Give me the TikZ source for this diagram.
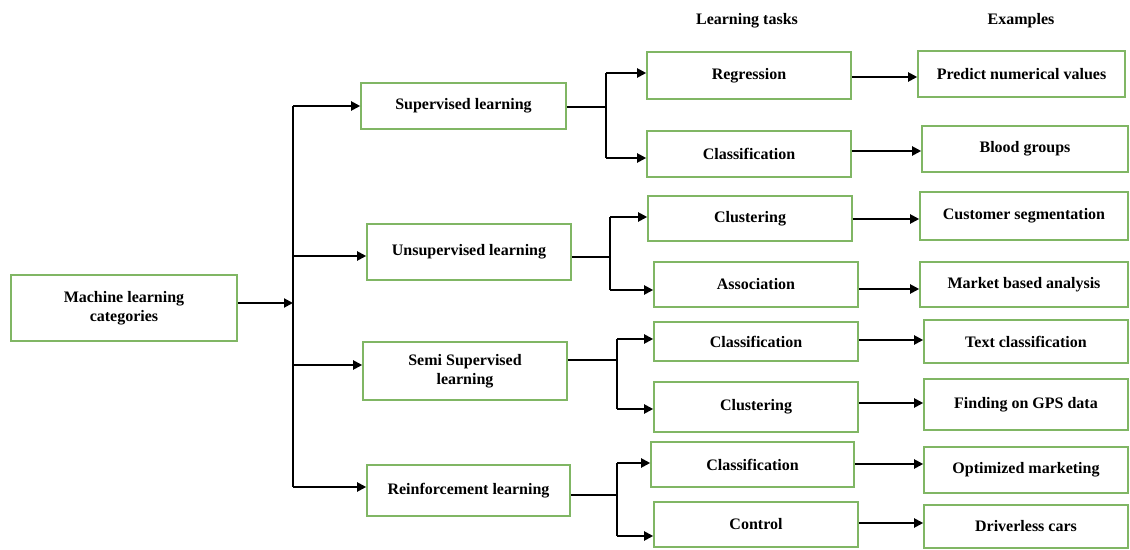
\documentclass[tikz,border=0pt]{standalone}
\usepackage{fontspec}
\setmainfont{Liberation Serif}
\usetikzlibrary{arrows.meta}
\definecolor{boxgreen}{RGB}{128,182,100}
\tikzset{
  box/.style={draw=boxgreen, line width=0.8pt, fill=white, align=center, inner sep=1pt,
    font=\fontsize{8}{9.6}\selectfont\bfseries},
  conn/.style={draw=black, line width=1pt},
  arr/.style={conn, -{Triangle[length=4.5pt,width=4.5pt]}},
  hdr/.style={font=\fontsize{8}{9.6}\selectfont\bfseries}
}
\begin{document}
\begin{tikzpicture}[x=0.5pt,y=-0.5pt]
\useasboundingbox[fill=white] (0,0) rectangle (1130,550);
% headers
\node[hdr] (h1) at (747,21) {Learning tasks};
\node[hdr] (h2) at (1021,21) {Examples};
% root and categories
\node[box, minimum width=113pt, minimum height=33pt] (ml) at (124,308) {Machine learning\\categories};
\node[box, minimum width=102.5pt, minimum height=23pt] (sup) at (463.5,106) {Supervised learning};
\node[box, minimum width=102pt, minimum height=28pt] (uns) at (469,252) {Unsupervised learning};
\node[box, minimum width=102pt, minimum height=29pt] (semi) at (465,371) {Semi Supervised\\learning};
\node[box, minimum width=101.5pt, minimum height=25.5pt] (rein) at (468.5,490.5) {Reinforcement learning};
% tasks
\node[box, minimum width=102pt, minimum height=23.5pt] (reg) at (749,75.5) {Regression};
\node[box, minimum width=102pt, minimum height=23pt] (clsa) at (749,154) {Classification};
\node[box, minimum width=102pt, minimum height=22.5pt] (clua) at (750,218.5) {Clustering};
\node[box, minimum width=102pt, minimum height=22.5pt] (asso) at (756,284.5) {Association};
\node[box, minimum width=102pt, minimum height=19.5pt] (clsb) at (756,341.5) {Classification};
\node[box, minimum width=102pt, minimum height=25pt] (club) at (756,407) {Clustering};
\node[box, minimum width=101.5pt, minimum height=22.5pt] (clsc) at (752.5,464.5) {Classification};
\node[box, minimum width=102pt, minimum height=22.5pt] (ctrl) at (756,524.5) {Control};
% examples
\node[box, minimum width=103.5pt, minimum height=23pt] (pred) at (1021.5,74) {Predict numerical values};
\node[box, minimum width=103pt, minimum height=23pt] (blood) at (1025,149) {Blood groups};
\node[box, minimum width=104pt, minimum height=24pt] (cust) at (1024,216) {Customer segmentation};
\node[box, minimum width=104pt, minimum height=22.5pt] (mkt) at (1024,284.5) {Market based analysis};
\node[box, minimum width=102pt, minimum height=21.5pt] (txt) at (1026,341.5) {Text classification};
\node[box, minimum width=102pt, minimum height=25.5pt] (gps) at (1026,404.5) {Finding on GPS data};
\node[box, minimum width=102pt, minimum height=23pt] (opt) at (1026,470) {Optimized marketing};
\node[box, minimum width=102pt, minimum height=21.5pt] (drv) at (1026,526.5) {Driverless cars};
% trunk
\coordinate (tr0) at (293,303);
\coordinate (tr1) at (293,106);
\coordinate (tr2) at (293,256);
\coordinate (tr3) at (293,365);
\coordinate (tr4) at (293,487);
\draw[arr] (ml.east |- tr0) -- (tr0);
\draw[conn] (tr1) -- (tr4);
\draw[arr] (tr1) -- (tr1 -| sup.west);
\draw[arr] (tr2) -- (tr2 -| uns.west);
\draw[arr] (tr3) -- (tr3 -| semi.west);
\draw[arr] (tr4) -- (tr4 -| rein.west);
% branch: supervised
\coordinate (sa) at (606,107);
\coordinate (sb) at (606,73);
\coordinate (sc) at (606,158);
\draw[conn] (sup.east |- sa) -- (sa);
\draw[conn] (sb) -- (sc);
\draw[arr] (sb) -- (sb -| reg.west);
\draw[arr] (sc) -- (sc -| clsa.west);
% branch: unsupervised
\coordinate (ua) at (610,257);
\coordinate (ub) at (610,217);
\coordinate (uc) at (610,290);
\draw[conn] (uns.east |- ua) -- (ua);
\draw[conn] (ub) -- (uc);
\draw[arr] (ub) -- (ub -| clua.west);
\draw[arr] (uc) -- (uc -| asso.west);
% branch: semi
\coordinate (ma) at (617,360);
\coordinate (mb) at (617,339);
\coordinate (mc) at (617,409);
\draw[conn] (semi.east |- ma) -- (ma);
\draw[conn] (mb) -- (mc);
\draw[arr] (mb) -- (mb -| clsb.west);
\draw[arr] (mc) -- (mc -| club.west);
% branch: reinforcement
\coordinate (ra) at (617,495);
\coordinate (rb) at (617,463);
\coordinate (rc) at (617,536);
\draw[conn] (rein.east |- ra) -- (ra);
\draw[conn] (rb) -- (rc);
\draw[arr] (rb) -- (rb -| clsc.west);
\draw[arr] (rc) -- (rc -| ctrl.west);
% tasks to examples
\coordinate (e1) at (0,77);
\coordinate (e2) at (0,151);
\coordinate (e3) at (0,219);
\coordinate (e4) at (0,289);
\coordinate (e5) at (0,340);
\coordinate (e6) at (0,403);
\coordinate (e7) at (0,464);
\coordinate (e8) at (0,523);
\draw[arr] (reg.east |- e1) -- (pred.west |- e1);
\draw[arr] (clsa.east |- e2) -- (blood.west |- e2);
\draw[arr] (clua.east |- e3) -- (cust.west |- e3);
\draw[arr] (asso.east |- e4) -- (mkt.west |- e4);
\draw[arr] (clsb.east |- e5) -- (txt.west |- e5);
\draw[arr] (club.east |- e6) -- (gps.west |- e6);
\draw[arr] (clsc.east |- e7) -- (opt.west |- e7);
\draw[arr] (ctrl.east |- e8) -- (drv.west |- e8);
\end{tikzpicture}
\end{document}
